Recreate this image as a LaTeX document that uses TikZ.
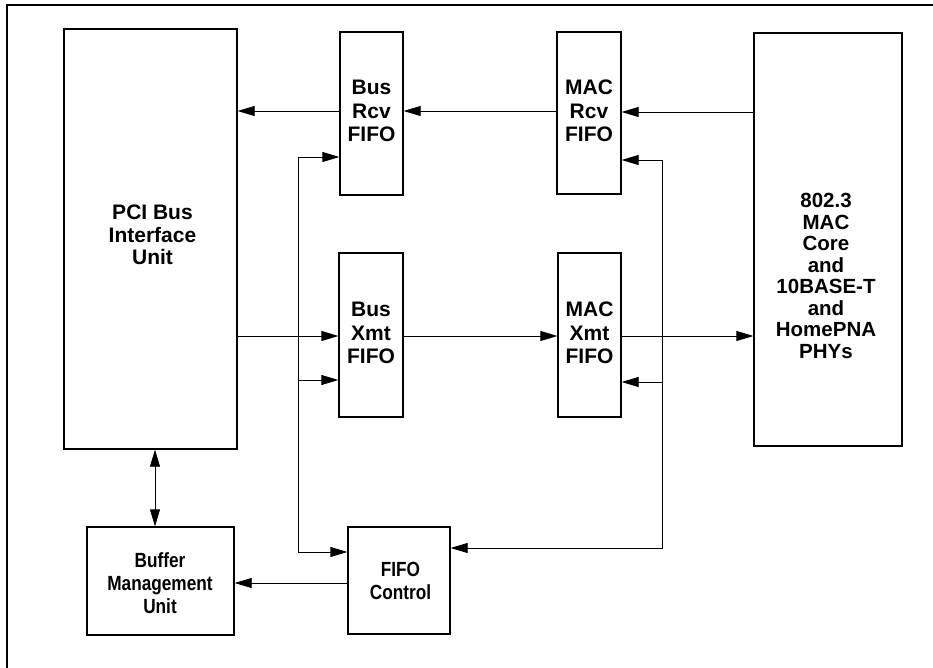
\documentclass[tikz,border=0pt]{standalone}
\usepackage{fontspec}
\setmainfont{Liberation Sans}
\newfontfamily\condfont[FakeStretch=0.84]{Liberation Sans}
\usetikzlibrary{arrows.meta}
\tikzset{
  blk/.style={draw, line width=1.3pt, inner sep=0pt, fill=none},
  lbl/.style={align=center, inner sep=0pt, font=\bfseries\fontsize{21}{23.5}\selectfont},
  lblpci/.style={align=center, inner sep=0pt, font=\bfseries\fontsize{21}{22.5}\selectfont},
  lblphy/.style={align=center, inner sep=0pt, font=\bfseries\fontsize{20.5}{21.5}\selectfont},
  lblcond/.style={align=center, inner sep=0pt, font=\condfont\bfseries\fontsize{20.5}{23}\selectfont},
  conn/.style={line width=0.8pt},
  arr/.style={conn, -{Triangle[length=17pt, width=10pt]}},
  darr/.style={conn, {Triangle[length=17pt, width=10pt]}-{Triangle[length=17pt, width=10pt]}},
}
\begin{document}
\begin{tikzpicture}[x=1pt, y=-1pt]
\useasboundingbox (0,0) rectangle (933,668);
% outer frame (top and left only)
\draw[line width=1.2pt] (7,668) -- (7,5) -- (933,5);

% blocks
\node[blk, minimum width=173pt, minimum height=420pt] (pci) at (150.5,239) {};
\node[blk, minimum width=63pt, minimum height=163pt] (busrcv) at (371.5,113.5) {};
\node[blk, minimum width=64pt, minimum height=162pt] (macrcv) at (589,113) {};
\node[blk, minimum width=64pt, minimum height=164pt] (busxmt) at (371,335) {};
\node[blk, minimum width=63pt, minimum height=164pt] (macxmt) at (589.5,335) {};
\node[blk, minimum width=148pt, minimum height=413pt] (phy) at (828,239.5) {};
\node[blk, minimum width=147pt, minimum height=108pt] (buf) at (160.5,581) {};
\node[blk, minimum width=102pt, minimum height=107pt] (fctl) at (399,580.5) {};

% labels
\node[lblpci] (pcit) at (152.5,235) {PCI Bus\\Interface\\Unit};
\node[lbl] (busrcvt) at (371.5,111) {Bus\\Rcv\\FIFO};
\node[lbl] (macrcvt) at (589,111) {MAC\\Rcv\\FIFO};
\node[lbl] (busxmtt) at (371,333) {Bus\\Xmt\\FIFO};
\node[lbl] (macxmtt) at (589.5,333) {MAC\\Xmt\\FIFO};
\node[lblphy] (phyt) at (826,276) {802.3\\MAC\\Core\\and\\10BASE-T\\and\\HomePNA\\PHYs};
\node[lblcond] (buft) at (160,583) {Buffer\\Management\\Unit};
\node[lblcond] (fctlt) at (400.5,580.5) {FIFO\\Control};

% helper coordinates
\coordinate (yRa) at (0,111);
\coordinate (yRb) at (0,112);
\coordinate (yX) at (0,336);
\coordinate (Lt) at (298,157);
\coordinate (Lm) at (298,380);
\coordinate (Lb) at (298,552);
\coordinate (Rt) at (662,160);
\coordinate (Rm) at (662,382);
\coordinate (Rb) at (662,548);
\coordinate (yB) at (0,583);
\coordinate (xV) at (155,0);

% receive path
\draw[arr] (busrcv.west |- yRa) -- (pci.east |- yRa);
\draw[arr] (macrcv.west |- yRa) -- (busrcv.east |- yRa);
\draw[arr] (phy.west |- yRb) -- (macrcv.east |- yRb);

% transmit path
\draw[arr] (pci.east |- yX) -- (busxmt.west |- yX);
\draw[arr] (busxmt.east |- yX) -- (macxmt.west |- yX);
\draw[arr] (macxmt.east |- yX) -- (phy.west |- yX);

% left control bus
\draw[arr] (Lt) -- (busrcv.west |- Lt);
\draw[arr] (Lm) -- (busxmt.west |- Lm);
\draw[arr] (Lt) -- (Lb) -- (fctl.west |- Lb);

% right control bus
\draw[arr] (Rt) -- (macrcv.east |- Rt);
\draw[arr] (Rm) -- (macxmt.east |- Rm);
\draw[arr] (Rt) -- (Rb) -- (fctl.east |- Rb);

% FIFO control to buffer management
\draw[arr] (fctl.west |- yB) -- (buf.east |- yB);

% PCI <-> buffer management
\draw[darr] (pci.south -| xV) -- (buf.north -| xV);
\end{tikzpicture}
\end{document}
